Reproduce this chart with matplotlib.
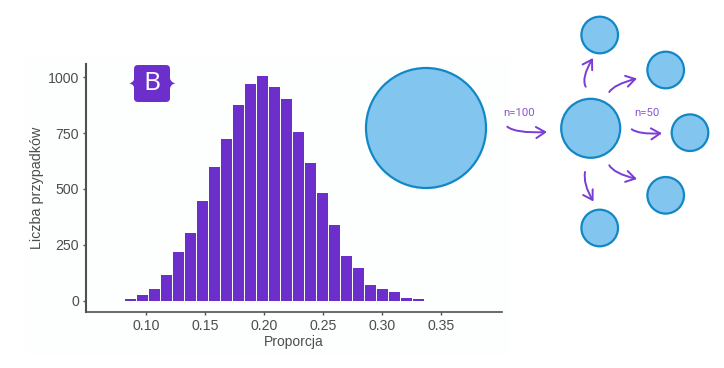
import matplotlib
matplotlib.use('Agg')
import matplotlib.pyplot as plt
from matplotlib.patches import Circle, FancyArrowPatch, FancyBboxPatch, PathPatch, Rectangle
from matplotlib.path import Path

plt.rcParams['font.family'] = ['Liberation Sans', 'DejaVu Sans']

# histogram
bin_centers = [0.0869, 0.0971, 0.1072, 0.1174, 0.1275, 0.1377, 0.1479, 0.1580, 0.1682,
               0.1783, 0.1885, 0.1986, 0.2088, 0.2190, 0.2291, 0.2393, 0.2494, 0.2596,
               0.2698, 0.2799, 0.2901, 0.3002, 0.3104, 0.3205, 0.3307]
counts = [8, 25, 52, 115, 218, 303, 446, 599, 724, 876, 970, 1006, 957, 903, 755,
          616, 482, 339, 200, 146, 70, 52, 39, 12, 8]
x_ticks = [0.10, 0.15, 0.20, 0.25, 0.30, 0.35]
x_tick_labels = ['0.10', '0.15', '0.20', '0.25', '0.30', '0.35']
y_ticks = [0, 250, 500, 750, 1000]

# diagram on the right, in pixels of the picture: x, y, radius
population = (426, 128, 60)
sample = (590.7, 128.3, 29.5)
subsamples = [(599.7, 35, 18.3), (665.7, 70, 18.3), (690, 132.7, 18.3),
              (665.7, 195.3, 18.3), (599.7, 228, 18.3)]
# start, control, end
arrows = [((507.3, 126.7), (516, 133.5), (547, 132)),
          ((631.7, 129.3), (639, 134.5), (662, 133.3)),
          ((585.7, 86.7), (581, 78), (593, 58)),
          ((609.3, 92), (614, 84.5), (637, 78.5)),
          ((609.3, 165.3), (614, 173.5), (637, 179)),
          ((585, 172), (583, 184), (593.5, 201.5))]

purple = '#6C2FCB'
blue_fill = '#82C6EF'
blue_edge = '#1287C6'
arrow_color = '#7A3BD6'
axis_color = '#505050'
text_color = '#4d4d4d'

W, H = 724, 368
fig = plt.figure(figsize=(W / 100, H / 100), dpi=100)

# faint panel behind the plot
bg = fig.add_axes([0, 0, 1, 1], zorder=0)
bg.set_xlim(0, W)
bg.set_ylim(H, 0)
bg.axis('off')
bg.add_patch(Rectangle((25, 58), 485, 297, facecolor='#fdfefe', edgecolor='none'))

ax = fig.add_axes([86 / W, 1 - 312 / H, 416 / W, 248 / H], zorder=1)
ax.patch.set_alpha(0)
ax.bar(bin_centers, counts, width=0.0093, color=purple)
ax.set_xlim(0.0492, 0.4014)
ax.set_ylim(-50.6, 1059.5)
ax.set_xticks(x_ticks)
ax.set_xticklabels(x_tick_labels)
ax.set_yticks(y_ticks)
ax.tick_params(labelsize=10.2, labelcolor=text_color, color=axis_color, length=2.5, width=1, pad=2.5)
ax.spines['top'].set_visible(False)
ax.spines['right'].set_visible(False)
ax.spines['left'].set_color(axis_color)
ax.spines['bottom'].set_color(axis_color)
ax.spines['left'].set_linewidth(1.5)
ax.spines['bottom'].set_linewidth(1.2)

# everything else goes on a full figure overlay, y runs down as in the picture
ov = fig.add_axes([0, 0, 1, 1], zorder=2)
ov.set_xlim(0, W)
ov.set_ylim(H, 0)
ov.axis('off')

ov.text(294, 342, 'Proporcja', fontsize=10, color=text_color, ha='center', va='center')
ov.text(37, 188, 'Liczba przypadków', fontsize=10.3, color=text_color, rotation=90, ha='center', va='center')

# badge
ov.add_patch(FancyBboxPatch((137, 68), 30, 31, boxstyle='round,pad=3,rounding_size=4',
                            facecolor=purple, edgecolor='none'))
codes = [Path.MOVETO, Path.CURVE3, Path.CURVE3, Path.CURVE3, Path.CURVE3, Path.CLOSEPOLY]
ov.add_patch(PathPatch(Path([(135, 75), (135, 82.5), (129, 83.3), (135, 84), (135, 92), (135, 75)], codes),
                       facecolor=purple, edgecolor='none'))
ov.add_patch(PathPatch(Path([(169.5, 75), (169.5, 82.5), (175.5, 83.3), (169.5, 84), (169.5, 92), (169.5, 75)], codes),
                       facecolor=purple, edgecolor='none'))
ov.text(152.3, 83.5, 'B', fontsize=19, color='white', family='Open Sans', ha='center', va='center')

for x, y, r in [population, sample] + subsamples:
    ov.add_patch(Circle((x, y), r, facecolor=blue_fill, edgecolor=blue_edge, linewidth=1.6))

for start, control, end in arrows:
    path = Path([start, control, end], [Path.MOVETO, Path.CURVE3, Path.CURVE3])
    ov.add_patch(FancyArrowPatch(path=path, arrowstyle='->,head_length=6.5,head_width=4',
                                 color=arrow_color, linewidth=1.4, mutation_scale=1,
                                 shrinkA=0, shrinkB=0))

ov.text(519, 113, 'n=100', fontsize=8.2, color='#8A55D8', family='Roboto', ha='center', va='center')
ov.text(646.7, 113, 'n=50', fontsize=8.2, color='#8A55D8', family='Roboto', ha='center', va='center')

fig.savefig('out.png', dpi=100)
